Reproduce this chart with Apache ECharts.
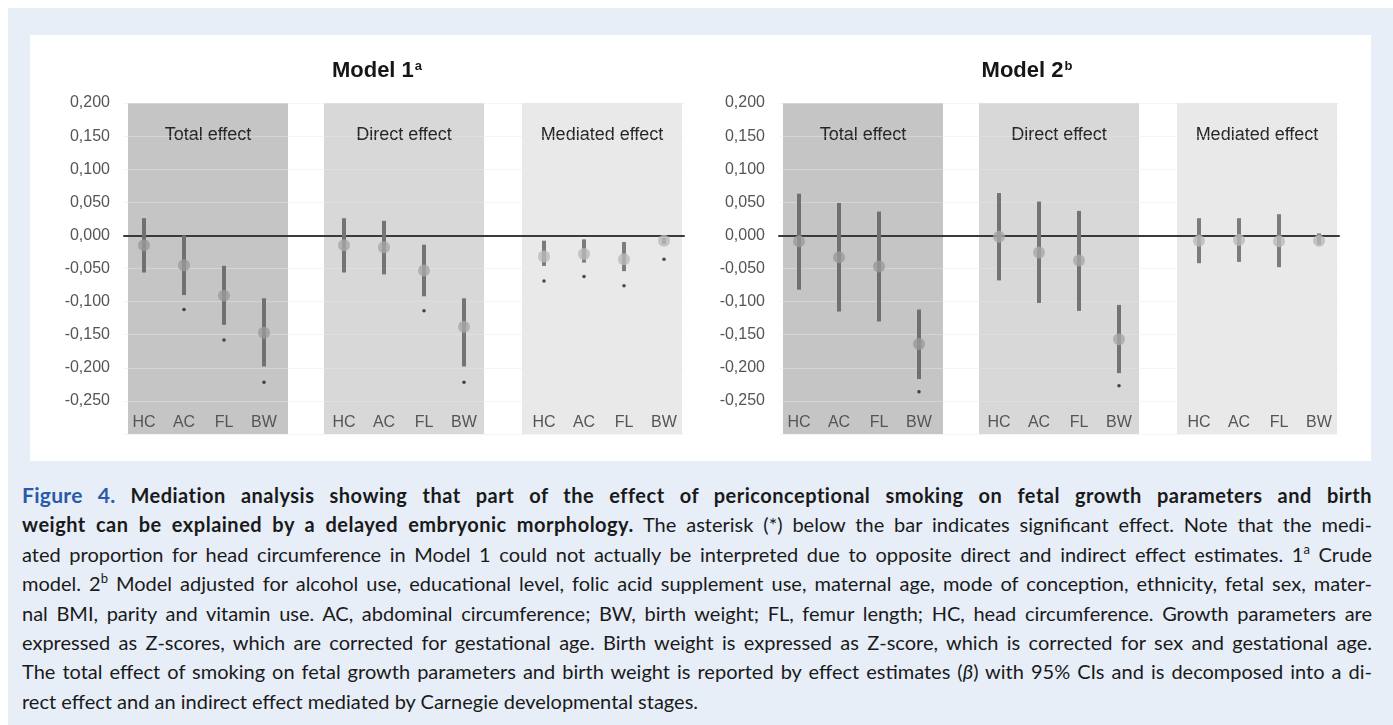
<!DOCTYPE html>
<html>
<head>
<meta charset="utf-8">
<script src="https://cdn.jsdelivr.net/npm/echarts@6/dist/echarts.min.js"></script>
<style>
  html, body { margin: 0; padding: 0; background: #ffffff; width: 1393px; height: 725px; overflow: hidden; }
  #bg { position: absolute; left: 8px; top: 8px; width: 1385px; height: 717px; background: #e7eef8; }
  #chart { position: absolute; left: 30px; top: 35px; width: 1341px; height: 426px; background: #ffffff; }
  #caption { position: absolute; left: 22px; top: 480px; width: 1350px; font-family: Lato, "Open Sans", sans-serif; font-size: 20px; line-height: 29.4px; color: #1a1a1a; }
  #caption .ln { white-space: nowrap; text-align: justify; text-align-last: justify; }
  #caption .ln.last { text-align-last: left; }
  #caption .fig { color: #2a5aa8; font-weight: bold; font-size: 21px; letter-spacing: 0.3px; }
  #caption b { font-weight: bold; letter-spacing: 0.5px; }
  #caption sup { font-size: 13px; line-height: 0; vertical-align: 8px; }
</style>
</head>
<body>
<div id="bg"></div>
<div id="chart"></div>
<div id="caption">
  <div class="ln"><span class="fig">Figure 4.</span> <b>Mediation analysis showing that part of the effect of periconceptional smoking on fetal growth parameters and birth</b></div>
  <div class="ln"><b>weight can be explained by a delayed embryonic morphology.</b> The asterisk (*) below the bar indicates significant effect. Note that the medi-</div>
  <div class="ln">ated proportion for head circumference in Model 1 could not actually be interpreted due to opposite direct and indirect effect estimates. 1<sup>a</sup> Crude</div>
  <div class="ln">model. 2<sup>b</sup> Model adjusted for alcohol use, educational level, folic acid supplement use, maternal age, mode of conception, ethnicity, fetal sex, mater-</div>
  <div class="ln">nal BMI, parity and vitamin use. AC, abdominal circumference; BW, birth weight; FL, femur length; HC, head circumference. Growth parameters are</div>
  <div class="ln">expressed as Z-scores, which are corrected for gestational age. Birth weight is expressed as Z-score, which is corrected for sex and gestational age.</div>
  <div class="ln">The total effect of smoking on fetal growth parameters and birth weight is reported by effect estimates (<i>&beta;</i>) with 95% CIs and is decomposed into a di-</div>
  <div class="ln last">rect effect and an indirect effect mediated by Carnegie developmental stages.</div>
</div>
<script>
// ---------- data ----------
const categories = ['HC', 'AC', 'FL', 'BW'];
const effects = ['Total effect', 'Direct effect', 'Mediated effect'];
const modelTitles = ['Model 1', 'Model 2'];
const modelSups = ['a', 'b'];

// Model 1 (crude)
const m1TotalEst  = [-0.015, -0.045, -0.091, -0.147];
const m1TotalLow  = [-0.056, -0.090, -0.135, -0.198];
const m1TotalHigh = [ 0.026,  0.000, -0.046, -0.095];
const m1TotalStar = [null, -0.112, -0.158, -0.222];

const m1DirectEst  = [-0.015, -0.018, -0.053, -0.138];
const m1DirectLow  = [-0.056, -0.059, -0.092, -0.198];
const m1DirectHigh = [ 0.026,  0.022, -0.014, -0.095];
const m1DirectStar = [null, null, -0.114, -0.222];

const m1MedEst  = [-0.032, -0.028, -0.036, -0.008];
const m1MedLow  = [-0.046, -0.041, -0.054, -0.013];
const m1MedHigh = [-0.008, -0.006, -0.010, -0.004];
const m1MedStar = [-0.069, -0.062, -0.076, -0.036];

// Model 2 (adjusted)
const m2TotalEst  = [-0.009, -0.033, -0.047, -0.164];
const m2TotalLow  = [-0.082, -0.115, -0.130, -0.217];
const m2TotalHigh = [ 0.063,  0.049,  0.036, -0.112];
const m2TotalStar = [null, null, null, -0.236];

const m2DirectEst  = [-0.002, -0.026, -0.038, -0.157];
const m2DirectLow  = [-0.068, -0.102, -0.114, -0.208];
const m2DirectHigh = [ 0.064,  0.051,  0.037, -0.105];
const m2DirectStar = [null, null, null, -0.227];

const m2MedEst  = [-0.008, -0.007, -0.009, -0.008];
const m2MedLow  = [-0.042, -0.040, -0.048, -0.014];
const m2MedHigh = [ 0.026,  0.026,  0.032,  0.003];
const m2MedStar = [null, null, null, null];

// ---------- chart construction ----------
const models = [
  [
    { est: m1TotalEst, lo: m1TotalLow, hi: m1TotalHigh, star: m1TotalStar },
    { est: m1DirectEst, lo: m1DirectLow, hi: m1DirectHigh, star: m1DirectStar },
    { est: m1MedEst, lo: m1MedLow, hi: m1MedHigh, star: m1MedStar }
  ],
  [
    { est: m2TotalEst, lo: m2TotalLow, hi: m2TotalHigh, star: m2TotalStar },
    { est: m2DirectEst, lo: m2DirectLow, hi: m2DirectHigh, star: m2DirectStar },
    { est: m2MedEst, lo: m2MedLow, hi: m2MedHigh, star: m2MedStar }
  ]
];

const FONT = '"Liberation Sans", Arial, sans-serif';
const Y_MIN = -0.3, Y_MAX = 0.2;
const bandColors = ['#c5c5c5', '#d8d8d8', '#e9e9e9'];
const dotColors = ['#9a9a9a', '#a8a8a8', '#b9b9b9'];
const barColors = ['#707070', '#747474', '#7c7c7c'];
const bandShift = [0.1, 0, -0.05];
const gridLefts = [94, 749];
const titleCenters = [347, 997];

// slot labels: 4 categories per effect, one empty slot between effects
const slotLabels = [];
effects.forEach((e, g) => {
  categories.forEach(c => slotLabels.push(c));
  if (g < effects.length - 1) slotLabels.push('');
});

const option = {
  animation: false,
  title: [],
  grid: [],
  xAxis: [],
  yAxis: [],
  series: []
};

models.forEach((model, m) => {
  option.title.push({
    text: '{t|' + modelTitles[m] + '}{s|' + modelSups[m] + '}',
    left: titleCenters[m],
    top: 25,
    textAlign: 'center',
    padding: 0,
    textStyle: {
      rich: {
        t: { fontSize: 22, fontWeight: 'bold', color: '#161616', fontFamily: FONT },
        s: { fontSize: 13, fontWeight: 'bold', color: '#161616', fontFamily: FONT, verticalAlign: 'top', padding: [0, 0, 0, 1] }
      }
    }
  });
  option.grid.push({ left: gridLefts[m], top: 68, width: 560, height: 331, outerBoundsMode: 'none', containLabel: false });
  // value x-axis used for placement + zero line
  option.xAxis.push({
    gridIndex: m, type: 'value', min: 0, max: 14,
    axisLine: { show: true, onZero: true, lineStyle: { color: '#3a3a3a', width: 2 } },
    axisTick: { show: false }, axisLabel: { show: false }, splitLine: { show: false }, z: 1
  });
  // category x-axis used for the labels
  option.xAxis.push({
    gridIndex: m, type: 'category', data: slotLabels, boundaryGap: true, position: 'bottom',
    axisLine: { show: false, onZero: false }, axisTick: { show: false }, splitLine: { show: false },
    axisLabel: { inside: true, margin: 3, fontSize: 16, color: '#555555', fontFamily: FONT, interval: 0 },
    z: 1
  });
  option.yAxis.push({
    gridIndex: m, type: 'value', min: Y_MIN, max: Y_MAX, interval: 0.05,
    axisLine: { show: false }, axisTick: { show: false },
    axisLabel: {
      margin: 14, fontSize: 16, color: '#555555', fontFamily: FONT,
      formatter: v => {
        const r = Math.round(v * 1000) / 1000;
        if (Math.abs(r - Y_MIN) < 1e-9) return '';
        return (r === 0 ? 0 : r).toFixed(3).replace('.', ',');
      }
    },
    splitLine: { show: true, lineStyle: { color: 'rgba(232,232,232,0.45)', width: 1 } },
    z: 1
  });

  const xi = m * 2;
  // bands
  option.series.push({
    type: 'custom', xAxisIndex: xi, yAxisIndex: m, z: 0, silent: true,
    data: effects.map((e, g) => [g * 5 + bandShift[g], g * 5 + 4 + bandShift[g], g]),
    renderItem: (params, api) => {
      const g = api.value(2);
      const p0 = api.coord([api.value(0), Y_MAX]);
      const p1 = api.coord([api.value(1), Y_MIN]);
      return {
        type: 'group',
        children: [
          { type: 'rect', shape: { x: p0[0], y: p0[1], width: p1[0] - p0[0], height: p1[1] - p0[1] }, style: { fill: bandColors[g] } },
          { type: 'text', style: { text: effects[g], x: (p0[0] + p1[0]) / 2, y: p0[1] + 32, align: 'center', verticalAlign: 'middle', fontSize: 18, fontFamily: FONT, fill: '#262626' } }
        ]
      };
    }
  });
  // confidence interval bars
  const barData = [], dotData = [], starData = [];
  model.forEach((eff, g) => {
    categories.forEach((c, k) => {
      const x = g * 5 + k + 0.5;
      barData.push([x, eff.lo[k], eff.hi[k], g]);
      dotData.push({ value: [x, eff.est[k]], itemStyle: { color: dotColors[g] } });
      if (eff.star[k] !== null) starData.push([x, eff.star[k]]);
    });
  });
  option.series.push({
    type: 'custom', xAxisIndex: xi, yAxisIndex: m, z: 2, silent: true,
    data: barData,
    renderItem: (params, api) => {
      const a = api.coord([api.value(0), api.value(1)]);
      const b = api.coord([api.value(0), api.value(2)]);
      return { type: 'line', shape: { x1: a[0], y1: a[1], x2: b[0], y2: b[1] }, style: { stroke: barColors[api.value(3)], lineWidth: 4 } };
    }
  });
  option.series.push({
    type: 'scatter', xAxisIndex: xi, yAxisIndex: m, z: 3, silent: true,
    symbol: 'circle', symbolSize: 12, data: dotData
  });
  option.series.push({
    type: 'scatter', xAxisIndex: xi, yAxisIndex: m, z: 3, silent: true,
    symbol: 'circle', symbolSize: 3.5, itemStyle: { color: '#1e1e1e' }, data: starData
  });
});

const chart = echarts.init(document.getElementById('chart'), null, { renderer: 'canvas' });
chart.setOption(option);
</script>
</body>
</html>
